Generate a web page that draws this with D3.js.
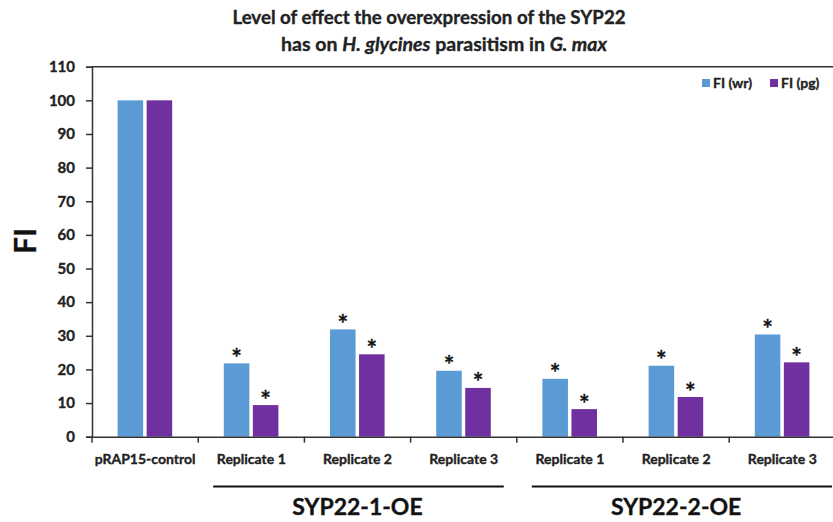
<!DOCTYPE html>
<html>
<head>
<meta charset="utf-8">
<script src="https://cdn.jsdelivr.net/npm/d3@7"></script>
<style>
  body { margin: 0; background: #fff; }
  text { font-family: Lato, "Open Sans", sans-serif; font-weight: bold; fill: #222; stroke: #222; stroke-width: 0.35px; }
</style>
</head>
<body>
<div id="vis"></div>
<script>
// values
const categories = ["pRAP15-control", "Replicate 1", "Replicate 2", "Replicate 3", "Replicate 1", "Replicate 2", "Replicate 3"]
const fiWr = [100, 21.8, 31.9, 19.6, 17.2, 21.1, 30.4]
const fiPg = [100, 9.4, 24.5, 14.5, 8.2, 11.8, 22.1]
const starred = [false, true, true, true, true, true, true]
const groupNames = ["SYP22-1-OE", "SYP22-2-OE"]
const groupFirst = [1, 4]
const groupLast = [3, 6]
const seriesNames = ["FI (wr)", "FI (pg)"]
const seriesColors = ["#5B9BD5", "#7030A0"]
const yTicks = [0, 10, 20, 30, 40, 50, 60, 70, 80, 90, 100, 110]

const W = 833, H = 522
const plotL = 92, plotR = 835.4, plotT = 66.7, plotB = 436.7

const svg = d3.select("#vis").append("svg").attr("width", W).attr("height", H)

const x = d3.scaleBand().domain(d3.range(categories.length)).range([plotL, plotR])
const inner = d3.scaleBand().domain([0, 1]).range([25.6, 80.2]).paddingInner(0.12)
const y = d3.scaleLinear().domain([0, 110]).range([plotB, plotT])

// title
svg.append("text").attr("x", 429).attr("y", 24).attr("text-anchor", "middle")
  .style("font-size", "18.7px")
  .text("Level of effect the overexpression of the SYP22")
const t2 = svg.append("text").attr("x", 444).attr("y", 51).attr("text-anchor", "middle")
  .style("font-size", "19.5px")
t2.append("tspan").text("has on ")
t2.append("tspan").attr("font-style", "italic").text("H. glycines")
t2.append("tspan").text(" parasitism in ")
t2.append("tspan").attr("font-style", "italic").text("G. max")

// top border
svg.append("line").attr("x1", plotL).attr("x2", W).attr("y1", plotT).attr("y2", plotT)
  .attr("stroke", "#333").attr("stroke-width", 1.5)

// bars
const rows = categories.map((c, i) => ({ i: i, vals: [fiWr[i], fiPg[i]], star: starred[i] }))
const cat = svg.selectAll("g.cat").data(rows).enter().append("g")
  .attr("class", "cat")
  .attr("transform", d => "translate(" + x(d.i) + ",0)")

cat.selectAll("rect").data(d => d.vals.map((v, s) => ({ v: v, s: s })))
  .enter().append("rect")
  .attr("x", d => inner(d.s))
  .attr("width", inner.bandwidth())
  .attr("y", d => y(d.v))
  .attr("height", d => plotB - y(d.v))
  .attr("fill", d => seriesColors[d.s])

cat.filter(d => d.star).selectAll("text.star")
  .data(d => d.vals.map((v, s) => ({ v: v, s: s })))
  .enter().append("text")
  .attr("class", "star")
  .attr("x", d => inner(d.s) + inner.bandwidth() / 2)
  .attr("y", d => y(d.v) + 3.5)
  .attr("text-anchor", "middle")
  .style("font-size", "25px")
  .style("fill", "#111")
  .text("*")

// axes
const yAxis = svg.append("g").attr("transform", "translate(" + plotL + ",0)")
  .call(d3.axisLeft(y).tickValues(yTicks).tickSize(6).tickPadding(11))
yAxis.selectAll("text").style("font-size", "15px").style("font-family", "Lato, sans-serif").attr("fill", "#222")

const xAxis = svg.append("g").attr("transform", "translate(0," + plotB + ")")
  .call(d3.axisBottom(x).tickSize(0).tickFormat(i => categories[i]).tickPadding(17))
xAxis.selectAll("text").style("font-size", "14px").style("font-family", "Lato, sans-serif").attr("fill", "#222")
xAxis.select(".domain").attr("d", "M" + plotL + ",0.5H" + W)

// category boundary ticks
xAxis.selectAll("line.bound").data(d3.range(categories.length)).enter().append("line")
  .attr("class", "bound")
  .attr("x1", i => x(i)).attr("x2", i => x(i))
  .attr("y1", 0).attr("y2", 6)

svg.selectAll(".domain, .tick line, line.bound").attr("stroke", "#333").attr("stroke-width", 1.5)

// y label
svg.append("text").attr("transform", "translate(36,241) rotate(-90)")
  .attr("text-anchor", "middle").style("font-size", "30px").style("fill", "#111").text("FI")

// group brackets
groupNames.forEach((g, k) => {
  const x0 = x(groupFirst[k]) + 15
  const x1 = groupLast[k] === categories.length - 1 ? W - 1 : x(groupLast[k]) + x.bandwidth() - 13
  svg.append("line").attr("x1", x0).attr("x2", x1).attr("y1", 486.5).attr("y2", 486.5)
    .attr("stroke", "#111").attr("stroke-width", 2.2)
  svg.append("text").attr("x", (x(groupFirst[k]) + x(groupLast[k]) + x.bandwidth()) / 2)
    .attr("y", 515).attr("text-anchor", "middle").style("font-size", "23px").style("fill", "#111").text(g)
})

// legend
const lx = [702, 770]
seriesNames.forEach((n, s) => {
  svg.append("rect").attr("x", lx[s]).attr("y", 79).attr("width", 8).attr("height", 8).attr("fill", seriesColors[s])
  svg.append("text").attr("x", lx[s] + 11).attr("y", 88).style("font-size", "14px").text(n)
})
</script>
</body>
</html>
